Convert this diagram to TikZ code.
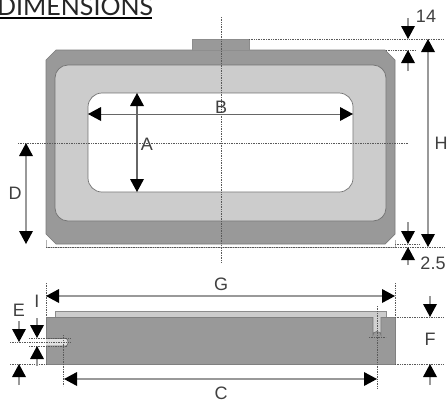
\documentclass[tikz,border=0pt]{standalone}
\usepackage{fontspec}
\setmainfont{Liberation Sans}
\newfontfamily\titlefont{Lato}
\usetikzlibrary{arrows.meta}
\tikzset{
 dark/.style={fill=black!40,draw=black!52,line width=0.7pt},
 mid/.style={fill=black!20,draw=black!55,line width=0.7pt},
 hole/.style={fill=white,draw=black!55,line width=0.7pt},
 dimline/.style={draw=black!40,line width=1.3pt},
 bighead/.tip={Triangle[length=13pt,width=14pt,color=black,line width=0pt]},
 arrowboth/.style={dimline,{bighead}-{bighead}},
 arrowend/.style={dimline,-{bighead}},
 extline/.style={draw=black!65,line width=0.7pt,densely dotted},
 lab/.style={text=black!75,font=\fontsize{18}{18}\selectfont,inner sep=0pt}
}
\begin{document}
\begin{tikzpicture}[x=1pt,y=-1pt]
\useasboundingbox[fill=white] (0,0) rectangle (447,399);
\begin{scope}
\clip (0,0) rectangle (447,399);
\node[anchor=base west,inner sep=0pt,text=black!85,font=\titlefont\fontsize{25}{25}\selectfont] (title) at (-3,15) {DIMENSIONS};
\end{scope}
\fill[black] (0,17.4) rectangle (152,19.2);
% top view
\draw[draw=black!30,line width=0.8pt] (46,240) -- (46,247) -- (395,247) -- (395,240);
\fill[black!40] (192,39) rectangle (249,50);
\draw[dark] (56,50) -- (385,50) -- (395,60) -- (395,234) -- (385,244) -- (56,244) -- (46,234) -- (46,60) -- cycle;
\draw[draw=black!45,line width=0.6pt,fill=black!40] (192,50) -- (192,39) -- (249,39) -- (249,50);
\draw[mid,rounded corners=13pt] (55,65) rectangle (386,221);
\draw[hole,rounded corners=14pt] (88,93) rectangle (353,192);
% bottom view
\fill[black!20] (55,311) rectangle (386,317);
\draw[draw=black!45,line width=0.6pt] (55,317) -- (55,311.5) -- (386,311.5) -- (386,317);
\fill[black!40,draw=black!50,line width=0.8pt] (46,317) rectangle (395,364);
\draw[draw=black!55,line width=0.7pt,fill=black!12] (46,338.5) -- (66,338.5) arc (-90:90:2 and 3.75) -- (46,346);
\draw[draw=black!55,line width=0.7pt,fill=black!18] (373,317) -- (373,335) arc (180:360:4 and 3.5) -- (381,317);
% extension and centre lines
\draw[extline] (221,17) -- (221,262);
\draw[extline] (18,143) -- (408,143);
\draw[extline] (249,39) -- (444,39);
\draw[extline] (386,50) -- (415,50);
\draw[extline] (395,244) -- (419,244);
\draw[extline] (46,247) -- (444,247);
\draw[extline] (46,283) -- (46,317);
\draw[extline] (395,283) -- (395,317);
\draw[extline] (63.5,335) -- (63.5,386);
\draw[extline] (377,306) -- (377,388);
\draw[extline] (395,317) -- (443,317);
\draw[extline] (395,364) -- (443,364);
\draw[extline] (10,342) -- (70,342);
\draw[extline] (10,364) -- (46,364);
\draw[extline] (29,338.5) -- (70,338.5);
\draw[extline] (29,346) -- (68,346);
\draw[extline] (369,337) -- (386,337);
% dimension arrows
\coordinate (ht) at (428,39); \coordinate (hb) at (428,247);
\coordinate (at) at (137,93); \coordinate (ab) at (137,192);
\coordinate (bl) at (88,114); \coordinate (br) at (353,114);
\coordinate (dt) at (26,143); \coordinate (db) at (26,244);
\coordinate (gl) at (46,296); \coordinate (gr) at (395,296);
\coordinate (cl) at (64,379); \coordinate (cr) at (377,379);
\draw[arrowboth,draw=black!60] (at) -- (ab);
\draw[arrowboth,draw=black!60,line width=0.9pt] (bl) -- (br);
\draw[arrowboth] (dt) -- (db);
\draw[arrowboth] (ht) -- (hb);
\draw[arrowboth] (gl) -- (gr);
\draw[arrowboth] (cl) -- (cr);
\draw[arrowend] (408,18) -- (408,39);
\draw[arrowend] (408,71) -- (408,50);
\draw[arrowend] (408,222) -- (408,244);
\draw[arrowend] (408,265) -- (408,247);
\draw[arrowend] (430,296) -- (430,317);
\draw[arrowend] (430,385) -- (430,364);
\draw[arrowend] (19,321) -- (19,342);
\draw[arrowend] (19,385) -- (19,364);
\draw[arrowend] (37,318) -- (37,338);
\draw[arrowend] (37,366) -- (37,346);
% labels
\node[lab] (n14) at (426,16) {14};
\node[lab] (nH) at (441,143) {H};
\node[lab] (nB) at (221,107) {B};
\node[lab] (nA) at (147,144) {A};
\node[lab] (nD) at (15,193) {D};
\node[lab] (n25) at (433,263) {2.5};
\node[lab] (nG) at (221,284) {G};
\node[lab] (nI) at (37,301) {I};
\node[lab] (nE) at (19,310) {E};
\node[lab] (nF) at (430,339) {F};
\node[lab] (nC) at (221,393) {C};
\end{tikzpicture}
\end{document}
